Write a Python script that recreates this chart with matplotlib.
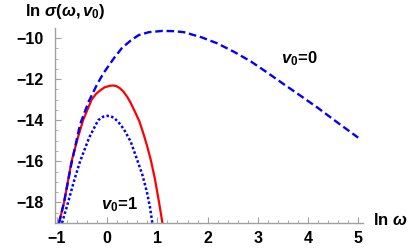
import matplotlib
matplotlib.use('Agg')
import matplotlib.pyplot as plt
from matplotlib.ticker import MultipleLocator

plt.rcParams['font.family'] = ['Liberation Sans', 'DejaVu Sans']
plt.rcParams['font.weight'] = 'bold'
plt.rcParams['mathtext.fontset'] = 'custom'
plt.rcParams['mathtext.rm'] = 'Liberation Sans:bold'
plt.rcParams['mathtext.it'] = 'Liberation Sans:italic:bold'
plt.rcParams['mathtext.bf'] = 'Liberation Sans:bold'

# v0 = 0 (dashed blue)
x_v00 = [-0.96, -0.86, -0.72, -0.54, -0.37, -0.2, -0.07, 0.13, 0.29, 0.48, 0.63, 0.83,
         1.09, 1.33, 1.53, 1.88, 2.19, 2.53, 2.86, 3.18, 3.53, 3.88, 4.19, 4.58, 5.0]
y_v00 = [-19.0, -18.0, -16.2, -14.2, -13.1, -12.25, -11.7, -11.0, -10.5, -10.1, -9.86, -9.72,
         -9.66, -9.67, -9.72, -9.97, -10.26, -10.68, -11.14, -11.67, -12.27, -12.86, -13.39, -14.1, -14.85]

# intermediate case (solid red)
x_mid = [-0.96, -0.86, -0.71, -0.59, -0.48, -0.31, -0.22, -0.14, -0.05, 0.05, 0.11, 0.18,
         0.25, 0.32, 0.4, 0.46, 0.53, 0.64, 0.73, 0.8, 0.87, 0.95, 1.03, 1.1]
y_mid = [-19.0, -18.0, -16.0, -14.9, -14.0, -13.0, -12.72, -12.55, -12.4, -12.33, -12.31, -12.34,
         -12.44, -12.6, -12.87, -13.12, -13.47, -14.05, -14.72, -15.3, -15.95, -16.85, -17.95, -19.0]

# v0 = 1 (dotted blue)
x_v01 = [-0.9, -0.78, -0.66, -0.54, -0.36, -0.18, -0.08, 0.0, 0.07, 0.13, 0.22, 0.33, 0.47,
         0.59, 0.7, 0.79, 0.85, 0.89, 0.9]
y_v01 = [-19.0, -18.0, -16.95, -16.0, -14.85, -14.0, -13.83, -13.79, -13.81, -13.88, -14.08, -14.43,
         -15.05, -15.88, -16.65, -17.48, -18.2, -18.85, -19.0]

fig = plt.figure(figsize=(4.15, 2.48), dpi=100)
ax = fig.add_axes([0.1325, 0.1008, 0.7415, 0.786])

ax.plot(x_mid, y_mid, color='#ff0000', lw=1.6)
ax.plot(x_v00, y_v00, color='#0000ff', lw=1.7, dashes=(3.2, 1.6))
ax.plot(x_v01, y_v01, color='#0000ff', lw=1.8, dashes=(1.0, 0.9))

ax.set_xlim(-1.04, 5.09)
ax.set_ylim(-19.0, -9.52)
ax.xaxis.set_major_locator(MultipleLocator(1))
ax.xaxis.set_minor_locator(MultipleLocator(0.2))
ax.yaxis.set_major_locator(MultipleLocator(2))
ax.yaxis.set_minor_locator(MultipleLocator(0.5))

for s in ['top', 'right']:
    ax.spines[s].set_visible(False)
for s in ['left', 'bottom']:
    ax.spines[s].set_color('#a0a0a0')
    ax.spines[s].set_linewidth(1.0)
ax.tick_params(which='both', direction='in', color='#a0a0a0', labelsize=11.5)
ax.tick_params(axis='y', pad=8)
ax.tick_params(axis='x', pad=6)
ax.tick_params(which='major', length=4, width=0.8)
ax.tick_params(which='minor', length=2, width=0.6)
for lab in ax.get_xticklabels() + ax.get_yticklabels():
    lab.set_fontweight('bold')

fig.text(0.157, 0.952, r'$\mathrm{ln}\ \sigma(\omega,v_0)$', fontsize=12, ha='center', va='center')
fig.text(0.942, 0.113, r'$\mathrm{ln}\ \omega$', fontsize=12, ha='center', va='center')
ax.text(300 / 415, 1 - 59 / 248, r'$v_0\!=\!0$', transform=fig.transFigure, fontsize=12, ha='center', va='center')
ax.text(120 / 415, 1 - 205 / 248, r'$v_0\!=\!1$', transform=fig.transFigure, fontsize=12, ha='center', va='center')

fig.savefig('out.png', dpi=100)
